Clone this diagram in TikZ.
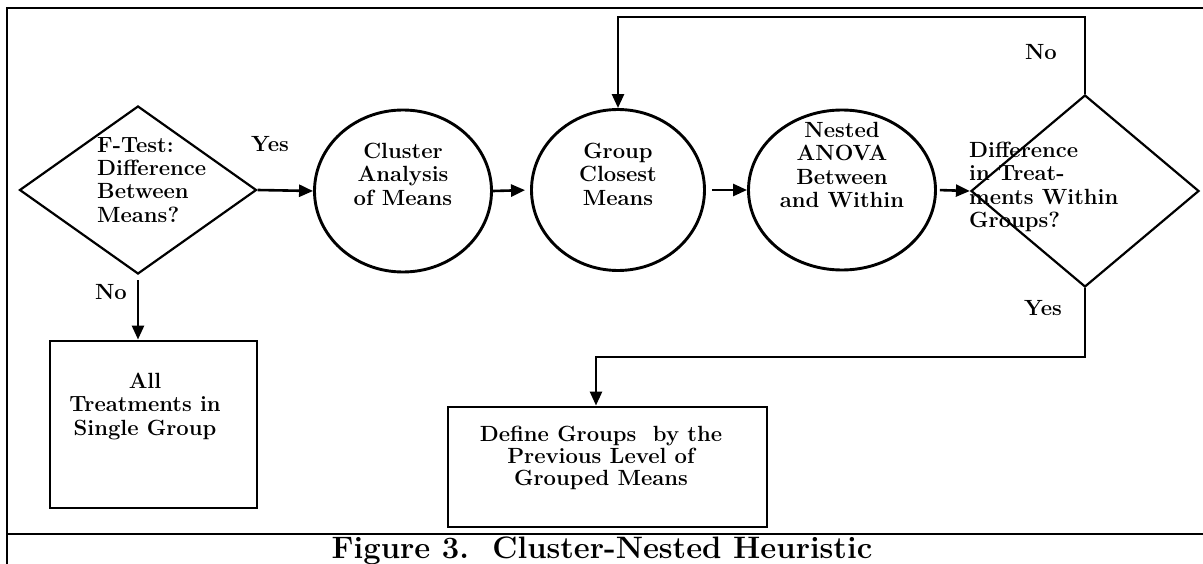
\documentclass[tikz,border=0pt]{standalone}
\usetikzlibrary{shapes.geometric,arrows.meta}
\begin{document}
\begin{tikzpicture}[x=1pt,y=-1pt,
  shp/.style={draw,line width=2.9pt,inner sep=0pt},
  thin shp/.style={draw,line width=2.2pt,inner sep=0pt},
  conn/.style={line width=2.6pt,-{Triangle[length=14pt,width=12pt]}},
  txt/.style={font=\fontsize{22}{23.3}\selectfont\bfseries,inner sep=0pt},
  lbl/.style={font=\fontsize{22}{23.3}\selectfont\bfseries,inner sep=0pt,anchor=base},
  frame/.style={line width=1.4pt}
]
\useasboundingbox (0,0) rectangle (1203,564);
% frame
\draw[frame] (1215,8) -- (7,8) -- (7,575);
\draw[frame] (7,534) -- (1215,534);

% shapes
\node[thin shp, diamond, minimum width=237, minimum height=168] (d1) at (138,190) {};
\node[shp, ellipse, minimum width=177, minimum height=162] (c1) at (403,191) {};
\node[shp, ellipse, minimum width=173, minimum height=161] (c2) at (618,190) {};
\node[shp, ellipse, minimum width=187, minimum height=160] (c3) at (842,190) {};
\node[thin shp, diamond, minimum width=228, minimum height=192] (d2) at (1085,191) {};
\node[shp, rectangle, minimum width=207, minimum height=167] (b1) at (153.5,424.5) {};
\node[shp, rectangle, minimum width=319, minimum height=120] (b2) at (607.5,467) {};

% texts
\node[txt, anchor=north west, align=left] (t1) at (97,137) {F-Test:\\Difference\\Between\\Means?};
\node[txt, anchor=north, align=center] (t2) at (403,143) {Cluster\\Analysis\\of Means};
\node[txt, anchor=north, align=center] (t3) at (618,143) {Group\\Closest\\Means};
\node[txt, anchor=north, align=center] (t4) at (842,122) {Nested\\ANOVA\\Between\\and Within};
\node[txt, anchor=north west, align=left] (t5) at (969,142) {Difference\\in Treat-\\ments Within\\Groups?};
\node[txt, anchor=north, align=center] (t6) at (145,373) {All\\Treatments in\\Single Group};
\node[txt, anchor=north, align=center, font=\fontsize{22}{22}\selectfont\bfseries] (t7) at (601,426) {Define Groups\ \ by the\\Previous Level of\\Grouped Means};

% labels
\node[lbl] (yes1) at (270,152) {Yes};
\node[lbl] (no1) at (111,300) {No};
\node[lbl] (no2) at (1041,60) {No};
\node[lbl] (yes2) at (1043,316) {Yes};

% caption
\node[anchor=base, inner sep=0pt, font=\fontsize{31}{34}\selectfont\bfseries] (cap) at (602,558) {Figure 3.\ \ Cluster-Nested Heuristic};

% connectors
\coordinate (lt) at (1085,17);
\coordinate (yb) at (1085,357);
\coordinate (yc) at (596,357);
\draw[conn] (d1.east) -- (c1.west);
\draw[conn, shorten >=5pt] (c1.east) -- (c2.west);
\draw[conn, shorten <=6pt] (c2.east) -- (c3.west);
\draw[conn, shorten <=3pt] (c3.east) -- (d2.west);
\draw[conn, shorten <=5pt] (d1.south) -- (d1.south |- b1.north);
\draw[conn] (d2.north) -- (lt) -| (c2.north);
\draw[conn] (d2.south) -- (yb) -- (yc) -- (yc |- b2.north);
\end{tikzpicture}
\end{document}
